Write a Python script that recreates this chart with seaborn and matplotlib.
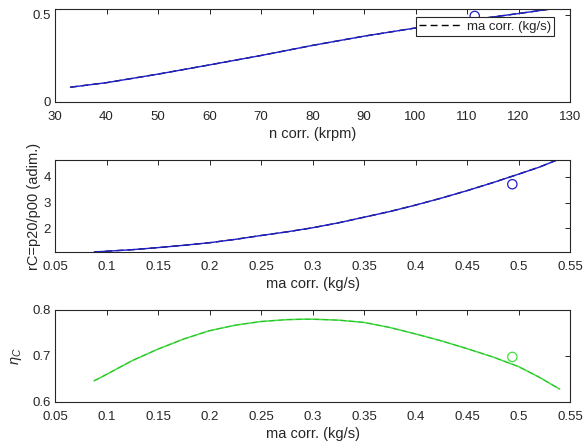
import matplotlib
matplotlib.use("Agg")
import matplotlib.pyplot as plt
import seaborn as sns
import pandas as pd

# Compressor map: corrected mass flow vs corrected speed
n_corr = [33, 40, 50, 60, 70, 80, 90, 100, 110, 120, 126.5]
ma_vs_n = [0.085, 0.111, 0.160, 0.213, 0.267, 0.325, 0.378, 0.425, 0.468, 0.508, 0.535]

# Pressure ratio vs corrected mass flow
ma_rc = [0.088, 0.1, 0.125, 0.15, 0.175, 0.2, 0.225, 0.25, 0.275, 0.3, 0.325, 0.35,
         0.375, 0.4, 0.425, 0.45, 0.475, 0.5, 0.52, 0.538]
rc = [1.08, 1.11, 1.17, 1.25, 1.34, 1.44, 1.57, 1.72, 1.86, 2.02, 2.21, 2.43,
      2.65, 2.90, 3.17, 3.46, 3.77, 4.10, 4.37, 4.66]

# Isentropic efficiency vs corrected mass flow
ma_eta = [0.088, 0.1, 0.125, 0.15, 0.175, 0.2, 0.225, 0.25, 0.275, 0.29, 0.3, 0.325,
          0.35, 0.375, 0.4, 0.425, 0.45, 0.475, 0.5, 0.52, 0.54]
eta = [0.646, 0.660, 0.690, 0.715, 0.737, 0.755, 0.767, 0.775, 0.779, 0.780, 0.780, 0.778,
       0.773, 0.762, 0.748, 0.733, 0.716, 0.698, 0.677, 0.654, 0.628]

# Design point
pt_n = [111.5]
pt_ma = [0.494]
pt_rc = [3.71]
pt_eta = [0.698]

ma_ticks = [0.05, 0.1, 0.15, 0.2, 0.25, 0.3, 0.35, 0.4, 0.45, 0.5, 0.55]
ma_ticklabels = ["0.05", "0.1", "0.15", "0.2", "0.25", "0.3", "0.35", "0.4",
                 "0.45", "0.5", "0.55"]

sns.set_style("white")
plt.rcParams["font.family"] = ["Liberation Sans", "DejaVu Sans"]
plt.rcParams.update({
    "font.size": 9.5,
    "xtick.direction": "in", "ytick.direction": "in",
    "xtick.top": True, "ytick.right": True,
    "xtick.major.size": 3.5, "ytick.major.size": 3.5,
    "xtick.major.width": 0.7, "ytick.major.width": 0.7,
    "xtick.color": "#262626", "ytick.color": "#262626",
    "axes.edgecolor": "#262626", "axes.linewidth": 0.8,
    "xtick.labelsize": 9.5, "ytick.labelsize": 9.5,
    "xtick.major.pad": 6.5, "ytick.major.pad": 3,
    "mathtext.fontset": "custom", "mathtext.it": "Liberation Sans:italic",
    "mathtext.rm": "Liberation Sans",
})

W, H = 584, 443
fig = plt.figure(figsize=(W / 100, H / 100), dpi=100)


def box(top, bottom, left=55, right=570):
    return [left / W, 1 - bottom / H, (right - left) / W, (bottom - top) / H]


ax1 = fig.add_axes(box(9, 102))
ax2 = fig.add_axes(box(160, 252))
ax3 = fig.add_axes(box(310, 402))

blue = (0.12, 0.12, 0.8)
green = (0.25, 0.88, 0.25)
label_fs = 10.5
long_dash = (0, (5, 3))

# --- top: mass flow vs speed ---
d1 = pd.DataFrame({"n": n_corr, "ma": ma_vs_n})
sns.lineplot(data=d1, x="n", y="ma", ax=ax1, color="black", lw=1, linestyle=long_dash,
             sort=False, label="ma corr. (kg/s)")
sns.lineplot(data=d1, x="n", y="ma", ax=ax1, color=blue, lw=1, sort=False, legend=False)
sns.scatterplot(x=pt_n, y=pt_ma, ax=ax1, marker="o", s=45, facecolor="none",
                edgecolor=blue, linewidth=0.9, legend=False, clip_on=False)
ax1.set_xlim(30, 130)
ax1.set_ylim(0, 0.534)
ax1.set_xticks(range(30, 131, 10))
ax1.set_yticks([0, 0.5])
ax1.set_yticklabels(["0", "0.5"])
ax1.set_xlabel("n corr. (krpm)", fontsize=label_fs, labelpad=3)
ax1.set_ylabel("")
leg = ax1.legend(loc="upper left", bbox_to_anchor=(416 / W, 1 - 17 / H),
                 bbox_transform=fig.transFigure, frameon=True, fancybox=False,
                 fontsize=9.5, handlelength=3.3, handletextpad=0.3, borderpad=0.25,
                 borderaxespad=0, framealpha=1)
leg.get_frame().set_edgecolor("#262626")
leg.get_frame().set_linewidth(0.8)

# --- middle: pressure ratio ---
d2 = pd.DataFrame({"ma": ma_rc, "rc": rc})
sns.lineplot(data=d2, x="ma", y="rc", ax=ax2, color="black", lw=1, linestyle=long_dash,
             sort=False, legend=False)
sns.lineplot(data=d2, x="ma", y="rc", ax=ax2, color=blue, lw=1, sort=False, legend=False)
sns.scatterplot(x=pt_ma, y=pt_rc, ax=ax2, marker="o", s=45, facecolor="none",
                edgecolor=blue, linewidth=0.9, legend=False)
ax2.set_xlim(0.05, 0.55)
ax2.set_ylim(1.08, 4.65)
ax2.set_xticks(ma_ticks)
ax2.set_xticklabels(ma_ticklabels)
ax2.set_yticks([2, 3, 4])
ax2.set_xlabel("ma corr. (kg/s)", fontsize=label_fs, labelpad=3)
ax2.set_ylabel("rC=p20/p00 (adim.)", fontsize=label_fs, labelpad=2)

# --- bottom: efficiency ---
d3 = pd.DataFrame({"ma": ma_eta, "eta": eta})
sns.lineplot(data=d3, x="ma", y="eta", ax=ax3, color=green, lw=1.1, sort=False, legend=False)
sns.lineplot(data=d3, x="ma", y="eta", ax=ax3, color=(0.1, 0.6, 0.1), lw=0.8,
             linestyle=long_dash, alpha=0.5, sort=False, legend=False)
sns.scatterplot(x=pt_ma, y=pt_eta, ax=ax3, marker="o", s=45, facecolor="none",
                edgecolor=green, linewidth=0.9, legend=False)
ax3.set_xlim(0.05, 0.55)
ax3.set_ylim(0.6, 0.8)
ax3.set_xticks(ma_ticks)
ax3.set_xticklabels(ma_ticklabels)
ax3.set_yticks([0.6, 0.7, 0.8])
ax3.set_yticklabels(["0.6", "0.7", "0.8"])
ax3.set_xlabel("ma corr. (kg/s)", fontsize=label_fs, labelpad=3)
ax3.set_ylabel(r"$\eta_C$", fontsize=label_fs, labelpad=6)

for ax in (ax1, ax2, ax3):
    for s in ax.spines.values():
        s.set_visible(True)

fig.savefig("out.png", dpi=100)
